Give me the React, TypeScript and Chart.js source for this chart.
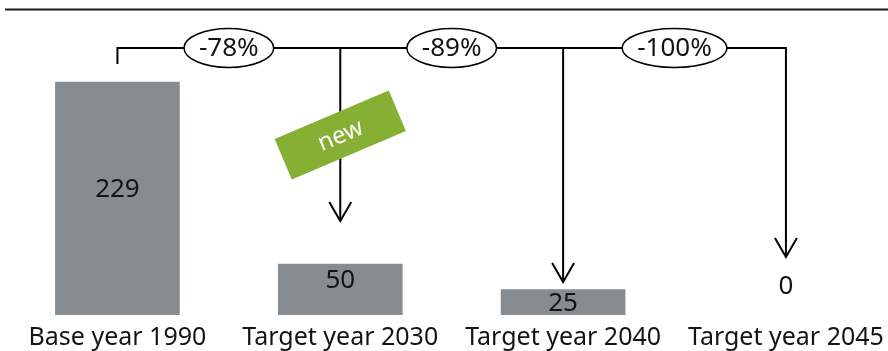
import React, { useEffect, useRef } from "react";
import { Chart, registerables } from "chart.js";

Chart.register(...registerables);

// ---- data ----
const categories = ["Base year 1990", "Target year 2030", "Target year 2040", "Target year 2045"];
const values = [229, 50, 25, 0];
const changeLabels = ["-78%", "-89%", "-100%"];
const badgeLabel = "new";
const badgeCategoryIndex = 1;

// ---- styles / layout constants ----
const FONT = '"Noto Sans", "Open Sans", sans-serif';
const BAR_COLOR = "#878C91";
const TEXT_COLOR = "#141414";
const GREEN = "#85B034";
const BRACKET_Y = 48;
const LEFT_TICK_BOTTOM = 64;
const ARROW_TIPS = [221, 282, 257];
const BADGE_Y = 135;

const annotationPlugin = {
  id: "bracketAnnotations",
  afterDatasetsDraw(chart: any) {
    const { ctx } = chart;
    const xs = chart.scales.x;
    const meta = chart.getDatasetMeta(0);
    const px = categories.map((_, i) => xs.getPixelForValue(i));
    ctx.save();

    // top rule
    ctx.strokeStyle = "#1e1e1e";
    ctx.lineWidth = 2;
    ctx.beginPath();
    ctx.moveTo(5, 9.5);
    ctx.lineTo(chart.width, 9.5);
    ctx.stroke();

    // value labels
    ctx.fillStyle = TEXT_COLOR;
    ctx.font = `26px ${FONT}`;
    ctx.textAlign = "center";
    ctx.textBaseline = "middle";
    meta.data.forEach((el: any, i: number) => {
      const v = values[i];
      const h = el.base - el.y;
      let y: number;
      if (v === 0) y = el.base - 28;
      else if (h > 40) y = (el.y + el.base) / 2 - 9;
      else y = (el.y + el.base) / 2 + 1;
      ctx.fillText(String(v), el.x, y);
    });

    // bracket lines
    ctx.strokeStyle = "#000";
    ctx.lineWidth = 2;
    ctx.lineJoin = "miter";
    ctx.lineCap = "butt";
    ctx.beginPath();
    ctx.moveTo(px[0], LEFT_TICK_BOTTOM);
    ctx.lineTo(px[0], BRACKET_Y);
    ctx.lineTo(px[3], BRACKET_Y);
    ctx.lineTo(px[3], ARROW_TIPS[2]);
    ctx.stroke();
    for (let i = 1; i <= 2; i++) {
      ctx.beginPath();
      ctx.moveTo(px[i], BRACKET_Y);
      ctx.lineTo(px[i], ARROW_TIPS[i - 1]);
      ctx.stroke();
    }
    for (let i = 1; i <= 3; i++) {
      const tip = ARROW_TIPS[i - 1];
      ctx.beginPath();
      ctx.moveTo(px[i] - 11, tip - 19);
      ctx.lineTo(px[i], tip);
      ctx.lineTo(px[i] + 11, tip - 19);
      ctx.stroke();
    }

    // ellipses with change labels
    ctx.font = `26px ${FONT}`;
    changeLabels.forEach((lab, i) => {
      const cx = (px[i] + px[i + 1]) / 2;
      const tw = ctx.measureText(lab).width;
      const rx = tw / 2 + 15;
      ctx.beginPath();
      ctx.ellipse(cx, BRACKET_Y, rx, 19.5, 0, 0, Math.PI * 2);
      ctx.fillStyle = "#fff";
      ctx.fill();
      ctx.lineWidth = 1.5;
      ctx.strokeStyle = "#000";
      ctx.stroke();
      ctx.fillStyle = TEXT_COLOR;
      ctx.fillText(lab, cx, BRACKET_Y + 1);
    });

    // green badge
    ctx.translate(px[badgeCategoryIndex], BADGE_Y);
    ctx.rotate((-23 * Math.PI) / 180);
    ctx.fillStyle = GREEN;
    ctx.fillRect(-62, -22, 124, 44);
    ctx.fillStyle = "#fff";
    ctx.font = `24px ${FONT}`;
    ctx.fillText(badgeLabel, 0, 1);

    ctx.restore();
  },
};

export default function App() {
  const ref = useRef<HTMLCanvasElement | null>(null);
  useEffect(() => {
    if (!ref.current) return;
    const chart = new Chart(ref.current, {
      type: "bar",
      data: {
        datasets: [
          {
            data: values.map((v, i) => ({ x: i, y: v })),
            backgroundColor: values.map((v) => (v === 0 ? "rgba(0,0,0,0)" : BAR_COLOR)),
            barThickness: 124,
            borderWidth: 0,
          },
        ],
      },
      options: {
        animation: false,
        responsive: false,
        layout: { padding: { top: 10, left: 0, right: 0, bottom: 0 } },
        plugins: { legend: { display: false }, tooltip: { enabled: false } },
        scales: {
          x: {
            type: "linear",
            min: -0.527,
            max: 3.458,
            offset: false,
            grid: { display: false, offset: false },
            border: { display: false },
            afterBuildTicks: (axis: any) => {
              axis.ticks = categories.map((_, i) => ({ value: i }));
            },
            afterFit: (axis: any) => {
              axis.height = 36;
            },
            ticks: {
              autoSkip: false,
              maxRotation: 0,
              minRotation: 0,
              padding: 0,
              color: TEXT_COLOR,
              font: { family: FONT, size: 25 },
              callback: (v: any) => categories[Math.round(Number(v))] ?? "",
            },
          },
          y: {
            display: false,
            min: 0,
            max: 300,
          },
        },
      },
      plugins: [annotationPlugin],
    } as any);
    return () => chart.destroy();
  }, []);
  return (
    <div style={{ position: "fixed", left: 0, top: 0, width: 888, height: 351 }}>
      <canvas ref={ref} width={888} height={351} style={{ display: "block" }} />
    </div>
  );
}
